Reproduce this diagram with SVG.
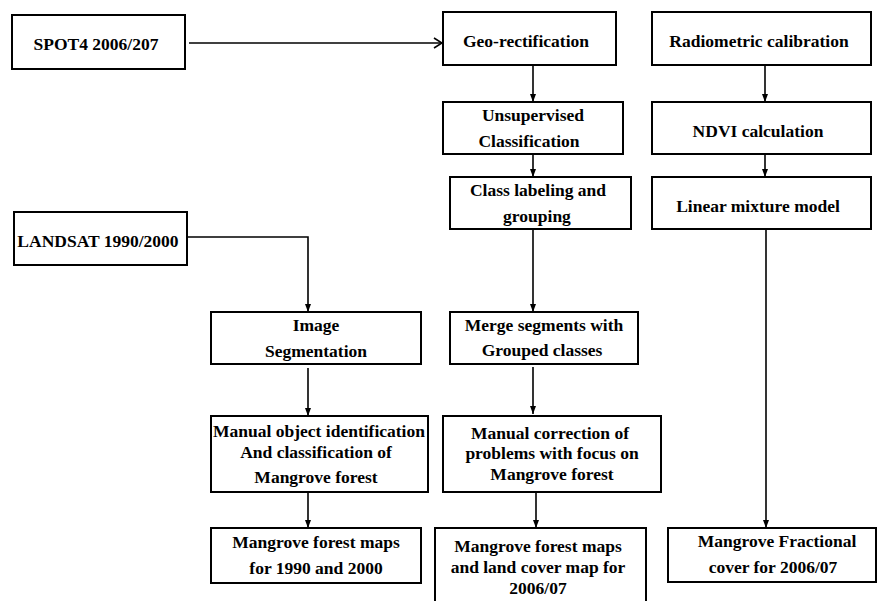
<svg xmlns="http://www.w3.org/2000/svg" width="877" height="601" viewBox="0 0 877 601">
<defs>
<style>
rect.box{fill:#fff;stroke:#000;stroke-width:2}
text{font-family:"Liberation Serif","Times New Roman",serif;font-weight:bold;font-size:17.5px;fill:#000;text-anchor:middle}
.conn path{fill:none;stroke:#000;stroke-width:1.6}
</style>
<marker id="tri" markerUnits="userSpaceOnUse" markerWidth="8" markerHeight="8" viewBox="0 0 8 8" refX="8" refY="4" orient="auto">
<path d="M0,1 L8,4 L0,7 Z" fill="#000"/>
</marker>
<marker id="open" markerUnits="userSpaceOnUse" markerWidth="10" markerHeight="12" viewBox="0 0 10 12" refX="9" refY="6" orient="auto">
<path d="M1,1 L9,6 L1,11" fill="none" stroke="#000" stroke-width="1.6"/>
</marker>
</defs>
<rect width="877" height="601" fill="#fff"/>

<g id="spot"><rect class="box" x="12" y="15" width="173" height="54"/><text x="96" y="50">SPOT4 2006/207</text></g>
<g id="landsat"><rect class="box" x="14" y="212" width="173" height="53"/><text x="98" y="247">LANDSAT 1990/2000</text></g>
<g id="geo"><rect class="box" x="443" y="12" width="173" height="53"/><text x="526" y="47">Geo-rectification</text></g>
<g id="radiometric"><rect class="box" x="652" y="12" width="219" height="53"/><text x="759" y="47">Radiometric calibration</text></g>
<g id="unsupervised"><rect class="box" x="443" y="102" width="180" height="52"/><text x="533" y="121">Unsupervised</text><text x="529" y="147">Classification</text></g>
<g id="ndvi"><rect class="box" x="652" y="102" width="219" height="52"/><text x="758" y="137">NDVI calculation</text></g>
<g id="classlabel"><rect class="box" x="450" y="177" width="181" height="52"/><text x="538" y="196">Class labeling and</text><text x="537" y="222">grouping</text></g>
<g id="linear"><rect class="box" x="652" y="177" width="219" height="52"/><text x="758" y="212">Linear mixture model</text></g>
<g id="imageseg"><rect class="box" x="211" y="312" width="210" height="52"/><text x="316" y="331">Image</text><text x="316" y="357">Segmentation</text></g>
<g id="merge"><rect class="box" x="450" y="312" width="188" height="52"/><text x="544" y="331">Merge segments with</text><text x="542" y="356">Grouped classes</text></g>
<g id="manualobj"><rect class="box" x="211" y="416" width="217" height="76"/><text x="319" y="437">Manual object identification</text><text x="316" y="458">And classification of</text><text x="316" y="483">Mangrove forest</text></g>
<g id="manualcorr"><rect class="box" x="443" y="416" width="218" height="76"/><text x="550" y="439">Manual correction of</text><text x="552" y="459">problems with focus on</text><text x="552" y="480">Mangrove forest</text></g>
<g id="maps1990"><rect class="box" x="211" y="528" width="210" height="55"/><text x="316" y="548">Mangrove forest maps</text><text x="316" y="574">for 1990 and 2000</text></g>
<g id="maps2006"><rect class="box" x="435" y="528" width="211" height="90"/><text x="538" y="552">Mangrove forest maps</text><text x="538" y="573">and land cover map for</text><text x="538" y="594">2006/07</text></g>
<g id="fractional"><rect class="box" x="668" y="528" width="208" height="54"/><text x="777" y="547">Mangrove Fractional</text><text x="773" y="573">cover for 2006/07</text></g>

<g id="connectors" class="conn">
<path d="M189,43 H442" marker-end="url(#open)"/>
<path d="M187,237 H308 V312" marker-end="url(#tri)"/>
<path d="M533,65 V102" marker-end="url(#tri)"/>
<path d="M533,154 V177" marker-end="url(#tri)"/>
<path d="M533,229 V312" marker-end="url(#tri)"/>
<path d="M533,367 V414" marker-end="url(#tri)"/>
<path d="M536,492 V528" marker-end="url(#tri)"/>
<path d="M308,368 V416" marker-end="url(#tri)"/>
<path d="M308,492 V528" marker-end="url(#tri)"/>
<path d="M765,65 V102" marker-end="url(#tri)"/>
<path d="M765,154 V177" marker-end="url(#tri)"/>
<path d="M766,229 V528" marker-end="url(#tri)"/>
</g>
</svg>
